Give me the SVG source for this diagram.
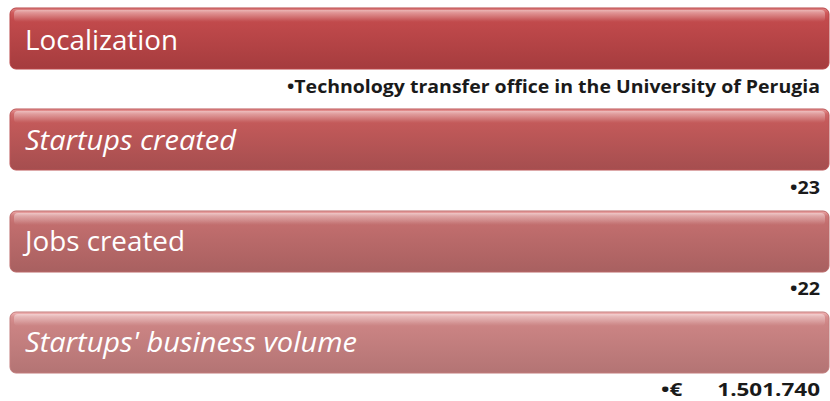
<svg xmlns="http://www.w3.org/2000/svg" width="830" height="401" viewBox="0 0 830 401">
<defs>
<linearGradient id="g1" x1="0" y1="0" x2="0" y2="1">
<stop offset="0" stop-color="#e08a8a"/><stop offset="0.08" stop-color="#cf5a5b"/><stop offset="0.2" stop-color="#c24a4c"/><stop offset="1" stop-color="#a53c3e"/>
</linearGradient>
<linearGradient id="g2" x1="0" y1="0" x2="0" y2="1">
<stop offset="0" stop-color="#e89a9a"/><stop offset="0.08" stop-color="#d06a6a"/><stop offset="0.2" stop-color="#c45a5a"/><stop offset="1" stop-color="#a54e4f"/>
</linearGradient>
<linearGradient id="g3" x1="0" y1="0" x2="0" y2="1">
<stop offset="0" stop-color="#eeaaaa"/><stop offset="0.08" stop-color="#cf7a7a"/><stop offset="0.2" stop-color="#c26e6e"/><stop offset="1" stop-color="#a86060"/>
</linearGradient>
<linearGradient id="g4" x1="0" y1="0" x2="0" y2="1">
<stop offset="0" stop-color="#f4b8b8"/><stop offset="0.08" stop-color="#d89090"/><stop offset="0.2" stop-color="#cc8484"/><stop offset="1" stop-color="#b37474"/>
</linearGradient>
<linearGradient id="hl" x1="0" y1="0" x2="0" y2="1">
<stop offset="0" stop-color="#ffffff" stop-opacity="0.45"/><stop offset="1" stop-color="#ffffff" stop-opacity="0"/>
</linearGradient>
</defs>
<style>
.bar{stroke-width:1}
.hl{fill:url(#hl)}
.t{font-family:"Open Sans","Liberation Sans",sans-serif;font-size:27px;fill:#ffffff}
.i{font-style:italic}
.v{font-family:"Open Sans","Liberation Sans",sans-serif;font-size:17px;font-weight:bold;fill:#1a1a1a;text-anchor:end}
</style>
<g id="node1">
<rect class="bar" x="10" y="8" width="819" height="61" rx="6" fill="url(#g1)" stroke="#b84446"/>
<rect class="hl" x="14" y="10" width="811" height="12" rx="4"/>
<text class="t" x="25" y="50" textLength="153" lengthAdjust="spacingAndGlyphs">Localization</text>
<text class="v" x="820" y="93" textLength="533" lengthAdjust="spacingAndGlyphs">•Technology transfer office in the University of Perugia</text>
</g>
<g id="node2">
<rect class="bar" x="10" y="109" width="819" height="61" rx="6" fill="url(#g2)" stroke="#bb5556"/>
<rect class="hl" x="14" y="111" width="811" height="12" rx="4"/>
<text class="t i" x="25" y="150" textLength="211" lengthAdjust="spacingAndGlyphs">Startups created</text>
<text class="v" x="820" y="194" textLength="30" lengthAdjust="spacingAndGlyphs">•23</text>
</g>
<g id="node3">
<rect class="bar" x="10" y="211" width="819" height="61" rx="6" fill="url(#g3)" stroke="#bb6868"/>
<rect class="hl" x="14" y="213" width="811" height="12" rx="4"/>
<text class="t" x="25" y="251" textLength="160" lengthAdjust="spacingAndGlyphs">Jobs created</text>
<text class="v" x="820" y="295" textLength="30" lengthAdjust="spacingAndGlyphs">•22</text>
</g>
<g id="node4">
<rect class="bar" x="10" y="312" width="819" height="61" rx="6" fill="url(#g4)" stroke="#c27c7c"/>
<rect class="hl" x="14" y="314" width="811" height="12" rx="4"/>
<text class="t i" x="25" y="352" textLength="332" lengthAdjust="spacingAndGlyphs">Startups' business volume</text>
<text class="v" x="820" y="396" textLength="159" lengthAdjust="spacingAndGlyphs" xml:space="preserve">•€      1.501.740</text>
</g>
<g id="connectors"/>
</svg>
